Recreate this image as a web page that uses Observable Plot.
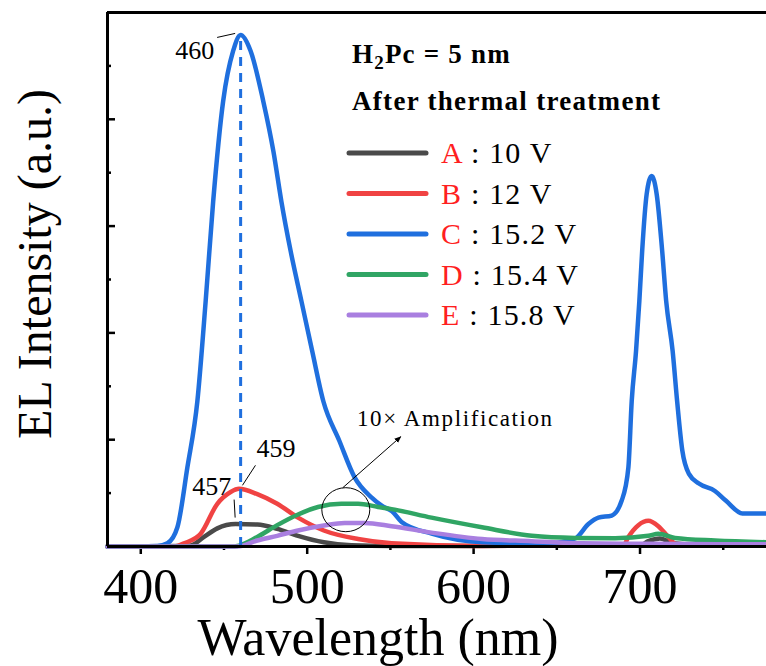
<!DOCTYPE html>
<html><head><meta charset="utf-8">
<script src="https://cdn.jsdelivr.net/npm/d3@7"></script>
<script src="https://cdn.jsdelivr.net/npm/@observablehq/plot@0.6"></script>
<style>body{margin:0;background:#fff;} #chart svg{display:block;} .ann text{font-family:'Liberation Serif','Times New Roman',serif;}</style>
</head><body><div id="chart"></div>
<script>
// ---- data ----
const seriesNames = ["A", "B", "C", "D", "E"];
const seriesVoltages = ["10 V", "12 V", "15.2 V", "15.4 V", "15.8 V"];
const seriesColors = ["#4a4a4a", "#f04343", "#1f6fde", "#30a564", "#a97fe0"];

const xMajorTicks = [400, 500, 600, 700];
const xMinorTicks = [450, 550, 650, 750];
const yMajorTicks = [1, 2, 3, 4];
const yMinorTicks = [0.5, 1.5, 2.5, 3.5, 4.5];

const wlA = [380, 425, 430, 438, 446, 457, 470, 482, 494.5, 510, 526.6, 550, 600, 700, 705, 712, 720, 740, 776];
const intA = [0, 0.005, 0.01, 0.09, 0.17, 0.21, 0.205, 0.165, 0.10, 0.04, 0.012, 0.005, 0.005, 0.01, 0.05, 0.075, 0.03, 0.01, 0.01];

const wlB = [380, 420, 426, 436, 446, 454, 459, 470, 482, 494.5, 510, 530.6, 550.7, 605, 690, 693, 699, 705, 711, 717, 722, 776];
const intB = [0, 0, 0.03, 0.12, 0.40, 0.51, 0.54, 0.49, 0.40, 0.27, 0.15, 0.07, 0.03, 0.005, 0.01, 0.09, 0.20, 0.24, 0.19, 0.09, 0.02, 0.01];

const wlC = [380, 410, 416, 422, 428, 434, 439, 443.5, 449.5, 455.5, 460, 466, 473.6, 479.7, 484.5, 490, 496.5, 503, 509.7, 519.3, 528.4, 538.6, 545, 551, 556.7, 574.8, 605, 645, 661, 669, 675, 683, 689, 693, 695, 697.6, 699.6, 701.3, 704, 707, 710, 713.3, 715.7, 719.6, 722.3, 725.4, 729.4, 735.4, 745, 751.5, 761.5, 776];
const intC = [0, 0.005, 0.03, 0.18, 0.74, 1.36, 2.30, 3.23, 4.17, 4.64, 4.79, 4.64, 4.17, 3.70, 3.23, 2.77, 2.30, 1.83, 1.36, 0.99, 0.65, 0.46, 0.38, 0.33, 0.23, 0.12, 0.04, 0.03, 0.075, 0.21, 0.27, 0.29, 0.43, 0.74, 1.36, 1.83, 2.30, 2.77, 3.30, 3.47, 3.30, 2.77, 2.30, 1.83, 1.36, 0.90, 0.68, 0.59, 0.52, 0.43, 0.31, 0.31];

const wlD = [380, 455, 458, 470, 482, 494.5, 506.5, 520.5, 530.6, 542.6, 550.7, 574.7, 605, 635, 661, 685, 705, 711, 721, 745, 776];
const intD = [0, 0, 0.005, 0.09, 0.20, 0.30, 0.37, 0.40, 0.40, 0.37, 0.35, 0.27, 0.18, 0.10, 0.08, 0.077, 0.10, 0.12, 0.08, 0.056, 0.04];

const wlE = [380, 458, 470, 482, 494.5, 510, 522.5, 534.5, 550.7, 574.7, 605, 635, 665, 705, 776];
const intE = [0, 0, 0.056, 0.10, 0.15, 0.196, 0.22, 0.22, 0.19, 0.13, 0.07, 0.05, 0.03, 0.025, 0.02];

const peakLabels = ["460", "459", "457"];
const amplificationLabel = "10\u00d7 Amplification";

// ---- build table ----
const wls = [wlA, wlB, wlC, wlD, wlE];
const ints = [intA, intB, intC, intD, intE];
const rows = [];
seriesNames.forEach((s, i) => wls[i].forEach((w, j) => rows.push({series: s, wl: w, v: ints[i][j]})));

const peakOf = (w, v) => { const k = v.indexOf(d3.max(v)); return {wl: w[k], v: v[k]}; };
const peakC = peakOf(wlC, intC), peakB = peakOf(wlB, intB), peakA = peakOf(wlA, intA);
const peakD = peakOf(wlD, intD), peakE = peakOf(wlE, intE);

const serif = "'Liberation Serif','Times New Roman',serif";
const W = 766, H = 666, ML = 107, MR = 0, MT = 12, MB = 120;

const chart = Plot.plot({
  width: W, height: H,
  marginLeft: ML, marginRight: MR, marginTop: MT, marginBottom: MB,
  style: {fontFamily: serif, background: "white", color: "black", overflow: "visible"},
  x: {domain: [380, 776]},
  y: {domain: [0, 5], axis: null},
  color: {domain: seriesNames, range: seriesColors},
  marks: [
    Plot.axisX({ticks: xMajorTicks, tickSize: 8, tickPadding: 13, fontSize: 50, label: null, strokeWidth: 2.5, tickFormat: d => String(d)}),
    Plot.axisX({ticks: xMinorTicks, tickSize: 4, tickPadding: 0, label: null, strokeWidth: 2.5, tickFormat: () => ""}),
    Plot.tickY(yMajorTicks, {y: d => d, insetRight: W - ML - MR - 8, strokeWidth: 2.5}),
    Plot.tickY(yMinorTicks, {y: d => d, insetRight: W - ML - MR - 4, strokeWidth: 2.5}),
    Plot.line(rows, {x: "wl", y: "v", z: "series", stroke: "series", curve: "monotone-x", strokeWidth: 4.5, strokeLinejoin: "round", strokeLinecap: "round"}),
    Plot.ruleX([peakC], {x: "wl", y1: 0, y2: "v", stroke: seriesColors[2], strokeWidth: 3, strokeDasharray: "9,7"}),
    Plot.ruleY([0], {strokeWidth: 3}),
    Plot.ruleY([5], {strokeWidth: 3}),
    Plot.ruleX([380], {strokeWidth: 3})
  ]
});
document.getElementById("chart").appendChild(chart);

const sx = chart.scale("x"), sy = chart.scale("y");
const svg = d3.select(chart);
const g = svg.append("g").attr("class", "ann").attr("font-family", serif).attr("fill", "black").attr("text-anchor", "start");

// axis titles
g.append("text").attr("x", 378).attr("y", 655).attr("text-anchor", "middle").attr("font-size", 52).text("Wavelength (nm)");
g.append("text").attr("transform", "translate(51,264) rotate(-90)").attr("text-anchor", "middle").attr("font-size", 48).text("EL Intensity (a.u.)");

// header
const h1 = g.append("text").attr("x", 352).attr("y", 63).attr("font-size", 27).attr("font-weight", "bold").attr("letter-spacing", 1.2);
h1.append("tspan").text("H");
h1.append("tspan").attr("font-size", 19).attr("dy", 6).text("2");
h1.append("tspan").attr("dy", -6).text("Pc = 5 nm");
g.append("text").attr("x", 352).attr("y", 110).attr("font-size", 27).attr("font-weight", "bold").attr("letter-spacing", 1.3).text("After thermal treatment");

// legend
seriesNames.forEach((s, i) => {
  const yb = 163 + i * 40.5;
  g.append("line").attr("x1", 349).attr("x2", 426).attr("y1", yb - 10).attr("y2", yb - 10)
    .attr("stroke", seriesColors[i]).attr("stroke-width", 5).attr("stroke-linecap", "round");
  const t = g.append("text").attr("x", 441).attr("y", yb).attr("font-size", 30).attr("letter-spacing", 1.2);
  t.append("tspan").attr("fill", "#ff1f1f").text(s);
  t.append("tspan").text(" : " + seriesVoltages[i]);
});

// peak annotations
const pxC = sx.apply(peakC.wl), pyC = sy.apply(peakC.v);
g.append("text").attr("x", pxC - 26).attr("y", pyC + 25).attr("text-anchor", "end").attr("font-size", 26).text(peakLabels[0]);
g.append("line").attr("x1", pxC - 23).attr("y1", pyC + 3).attr("x2", pxC - 5).attr("y2", pyC - 1).attr("stroke", "black").attr("stroke-width", 1);

const pxB = sx.apply(peakB.wl), pyB = sy.apply(peakB.v);
g.append("text").attr("x", pxB + 18).attr("y", pyB - 31).attr("font-size", 26).text(peakLabels[1]);
g.append("line").attr("x1", pxB + 4).attr("y1", pyB - 3).attr("x2", pxB + 17).attr("y2", pyB - 23).attr("stroke", "black").attr("stroke-width", 1);

const pxA = sx.apply(peakA.wl), pyA = sy.apply(peakA.v);
g.append("text").attr("x", pxA - 4).attr("y", pyA - 29).attr("text-anchor", "end").attr("font-size", 26).text(peakLabels[2]);
g.append("line").attr("x1", pxA - 1).attr("y1", pyA - 24).attr("x2", pxA).attr("y2", pyA - 6).attr("stroke", "black").attr("stroke-width", 1);

// amplification ellipse + arrow
const ex = sx.apply(523.5), ey = sy.apply((peakD.v + peakE.v) / 2 + 0.03);
g.append("ellipse").attr("cx", ex).attr("cy", ey).attr("rx", 24).attr("ry", 22).attr("fill", "none").attr("stroke", "black").attr("stroke-width", 1);
svg.append("defs").html('<marker id="ah" viewBox="0 0 10 10" refX="9" refY="5" markerWidth="7" markerHeight="7" orient="auto"><path d="M0,1 L10,5 L0,9 z" fill="black"/></marker>');
g.append("line").attr("x1", ex - 3).attr("y1", ey - 22).attr("x2", ex + 55).attr("y2", ey - 73).attr("stroke", "black").attr("stroke-width", 1).attr("marker-end", "url(#ah)");
g.append("text").attr("x", 357).attr("y", 426).attr("font-size", 23).attr("letter-spacing", 1.6).text(amplificationLabel);
</script>
</body></html>
